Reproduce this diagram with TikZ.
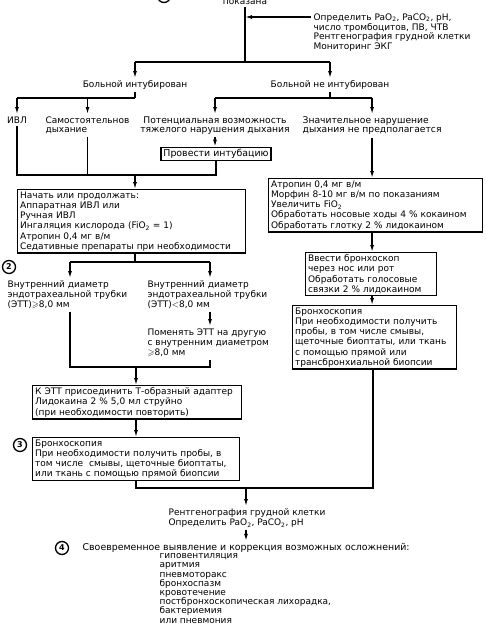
\documentclass[tikz,border=0pt]{standalone}
\usepackage{fontspec}
\setmainfont{DejaVu Sans}
\usepackage{amssymb}
\usetikzlibrary{arrows.meta, positioning}

\begin{document}
\begin{tikzpicture}[x=1pt, y=-1pt, line width=1.3pt,
		every node/.style={font=\fontsize{9}{10.2}\selectfont, inner sep=2pt},
		txt/.style={align=left},
		box/.style={draw, align=left, inner xsep=2.5pt, inner ysep=2pt},
		num/.style={draw, circle, inner sep=0.5pt, minimum size=13pt, font=\bfseries\fontsize{8}{8}\selectfont},
		arr/.style={-{Latex[length=7pt, width=4pt]}}]
				\useasboundingbox (0,0) rectangle (486,635);

				% Top of the scheme
				\node[num] (c1) at (164,-4) {1};
				\node[anchor=base] (ind) at (245,4) {показана};
				\node[txt, anchor=north west, font=\fontsize{9}{9.8}\selectfont] (info) at (311,11) {Определить PaO\textsubscript{2}, PaCO\textsubscript{2}, pH,\\число тромбоцитов, ПВ, ЧТВ\\Рентгенография грудной клетки\\Мониторинг ЭКГ};
				\coordinate (j1) at (245,62);
				\draw (ind) -- (j1);
				\draw[arr] ([yshift=-6pt]info.north west) -- ([yshift=-6pt]info.north west -| j1);

				% Split: intubated or not
				\node[anchor=north] (bi) at (135,78) {Больной интубирован};
				\node[anchor=north] (bn) at (330,78) {Больной не интубирован};
				\draw (j1 -| bi) -- (j1 -| bn);
				\draw[arr] (j1 -| bi) -- (bi);
				\draw[arr] (j1 -| bn) -- (bn);

				% Second split
				\node[anchor=north] (ivl) at (17,114) {ИВЛ};
				\node[txt, anchor=north west, font=\fontsize{9}{9.5}\selectfont] (sam) at (43,114) {Самостоятельнов\\дыхание};
				\node[align=center, anchor=north, font=\fontsize{9.2}{9.5}\selectfont] (pot) at (215,114) {Потенциальная возможность\\тяжелого нарушения дыхания};
				\node[txt, anchor=north west, font=\fontsize{9.2}{9.5}\selectfont] (zn) at (300,114) {Значительное нарушение\\дыхания не предполагается};
				\coordinate (j2) at (135,98);
				\coordinate (j3) at (330,98);
				\draw (bi) -- (j2);
				\draw (j2 -| ivl) -- (j2);
				\draw[arr] (j2 -| ivl) -- (ivl);
				\draw[arr] (j2 -| sam) -- (sam);
				\draw (bn) -- (j3);
				\draw (j3 -| pot) -- (j3 -| zn);
				\draw[arr] (j3 -| pot) -- (pot);
				\draw[arr] (j3 -| zn) -- (zn);

				% Intubation and the left main box
				\node[box, font=\fontsize{9.4}{10}\selectfont] (int) at (216,154) {Провести интубацию};
				\draw[arr] (pot) -- (pot |- int.north);
				\coordinate (j4) at (135,175);
				\draw (ivl) -- (ivl |- j4) -- (j4 -| int) -- (int);
				\draw (sam) -- (sam |- j4);
				\node[box, anchor=north west, text width=222.7pt] (b1) at (17,189) {Начать или продолжать:\\Аппаратная ИВЛ или\\Ручная ИВЛ\\Ингаляция кислорода (FiO\textsubscript{2} = 1)\\Атропин 0,4 мг в/м\\Седативные препараты при необходимости};
				\draw[arr] (j4) -- (j4 |- b1.north);

				% Right column
				\node[box, anchor=north west, text width=208.7pt] (r1) at (268,178) {Атропин 0,4 мг в/м\\Морфин 8-10 мг в/м по показаниям\\Увеличить FiO\textsubscript{2}\\Обработать носовые ходы 4 \% кокаином\\Обработать глотку 2 \% лидокаином};
				\draw[arr] (zn) -- (zn |- r1.north);
				\node[box, anchor=north west, text width=125.7pt] (r2) at (305,252) {Ввести бронхоскоп\\через нос или рот\\Обработать голосовые\\связки 2 \% лидокаином};
				\draw[arr] (r1.south -| zn) -- (zn |- r2.north);
				\node[box, anchor=north west, text width=158.7pt] (r3) at (292,305) {Бронхоскопия\\При необходимости получить\\пробы, в том числе смывы,\\щеточные биоптаты, или ткань\\с помощью прямой или\\трансбронхиальной биопсии};
				\draw[arr] (r2.south -| zn) -- (zn |- r3.north);

				% Tube diameter
				\coordinate (j5) at (135,262);
				\coordinate (cL) at (70,262);
				\coordinate (cR) at (210,262);
				\draw (b1.south -| j5) -- (j5);
				\draw (cL) -- (cR);
				\node[num] (c2) at (9,267) {2};
				\node[txt, anchor=north west] (d1) at (5,278) {Внутренний диаметр\\эндотрахеальной трубки\\(ЭТТ)$\geqslant$8,0 мм};
				\node[txt, anchor=north west] (d2) at (145,278) {Внутренний диаметр\\эндотрахеальной трубки\\(ЭТТ)$<$8,0 мм};
				\draw[arr] (cL) -- (cL |- d1.north);
				\draw[arr] (cR) -- (cR |- d2.north);
				\node[txt, anchor=north west] (ch) at (145,326) {Поменять ЭТТ на другую\\с внутренним диаметром\\$\geqslant$8,0 мм};
				\draw[arr] (cR |- d2.south) -- (cR |- ch.north);
				\coordinate (j6) at (136,367);
				\draw (cL |- d1.south) -- (cL |- j6) -- (cR |- j6) -- (cR |- ch.south);

				% Adapter and bronchoscopy
				\node[box, anchor=north west, text width=203.7pt] (b2) at (32,385) {К ЭТТ присоединить Т-образный адаптер\\Лидокаина 2 \% 5,0 мл струйно\\(при необходимости повторить)};
				\draw[arr] (j6) -- (j6 |- b2.north);
				\node[box, anchor=north west, text width=201.7pt] (b3) at (32,437) {Бронхоскопия\\При необходимости получить пробы, в\\том числе~ смывы, щеточные биоптаты,\\или ткань с помощью прямой биопсии};
				\node[num] (c3) at (20,445) {3};
				\draw[arr] (b2.south -| j6) -- (j6 |- b3.north);

				% Join both branches
				\coordinate (j7) at (136,488);
				\coordinate (jr) at (373,488);
				\coordinate (j8) at (246,488);
				\draw (b3.south -| j7) -- (j7) -- (jr) -- (jr |- r3.south);

				% Final checks and complications
				\node[txt, anchor=north west] (rg) at (166,506) {Рентгенография грудной клетки\\Определить PaO\textsubscript{2}, PaCO\textsubscript{2}, pH};
				\draw[arr] (j8) -- (j8 |- rg.north);
				\node[anchor=west, font=\fontsize{9.4}{10}\selectfont] (comp) at (80,548) {Своевременное выявление и коррекция возможных осложнений:};
				\node[num] (c4) at (62,548) {4};
				\draw[arr] (rg.south -| j8) -- (j8 |- comp.north);
				\node[txt, anchor=north west, font=\fontsize{9}{9.2}\selectfont] (lst) at (157,551) {гиповентиляция\\аритмия\\пневмоторакс\\бронхоспазм\\кровотечение\\постбронхоскопическая лихорадка,\\бактериемия\\или пневмония};
			\end{tikzpicture}
\end{document}
